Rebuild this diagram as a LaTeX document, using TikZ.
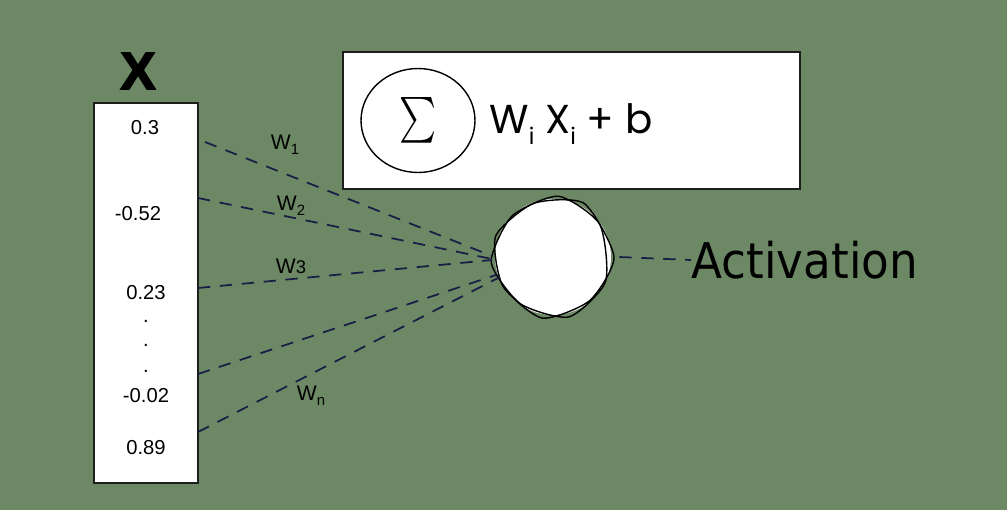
\documentclass[tikz,border=0pt]{standalone}
\usepackage{fontspec}
\setmainfont{Liberation Sans}
\newfontfamily\poppfont{Poppins}
\newfontfamily\actfont[FakeStretch=0.92]{DejaVu Sans}
\newfontfamily\xfont[FakeBold=3]{Liberation Sans Bold}
\usetikzlibrary{shapes.geometric}
\definecolor{bgc}{RGB}{108,136,100}
\definecolor{wirec}{RGB}{25,30,70}
\definecolor{edgec}{RGB}{30,30,30}
\newcommand{\wsub}[1]{\raisebox{-0.45ex}{\fontsize{8.5}{10}\selectfont #1}}
\newcommand{\fsub}[1]{\raisebox{-0.5ex}{\fontsize{13}{15}\selectfont #1}}
\tikzset{
  boxstyle/.style={draw=edgec, fill=white, line width=1.1pt, inner sep=0pt},
  wire/.style={draw=wirec, line width=1pt, dash pattern=on 7pt off 5.5pt},
  valtext/.style={font=\fontsize{11.5}{13}\selectfont, inner sep=0pt},
  wlabel/.style={font=\fontsize{12}{14}\selectfont, inner sep=0pt},
  sketch/.style={draw=black, line width=0.8pt}
}
\begin{document}
\begin{tikzpicture}[x=0.02cm,y=-0.02cm]
\fill[bgc] (0,0) rectangle (1007,510);
\useasboundingbox (0,0) rectangle (1007,510);

% input vector
\node[font=\xfont\fontsize{30}{33}\selectfont, inner sep=0pt] (xlab) at (138,71) {X};
\node[boxstyle, minimum width=2.08cm, minimum height=7.6cm] (vec) at (146,293) {};
\node[valtext] (v1) at (145,128) {0.3};
\node[valtext] (v2) at (138,214) {-0.52};
\node[valtext] (v3) at (146,293) {0.23};
\node[valtext] (d1) at (146,321) {.};
\node[valtext] (d2) at (146,345) {.};
\node[valtext] (d3) at (146,371) {.};
\node[valtext] (v4) at (146,396) {-0.02};
\node[valtext] (v5) at (146,448) {0.89};

% summation box
\node[boxstyle, minimum width=9.14cm, minimum height=2.74cm] (sumbox) at (571.5,120.5) {};
\node[draw=black, line width=0.8pt, ellipse, minimum width=2.28cm, minimum height=2.08cm, inner sep=0pt] (sig) at (418,120.5) {\scalebox{2.0}[2.6]{$\sum$}};
\node[anchor=base west, inner sep=0pt, font=\poppfont\fontsize{23}{27}\selectfont] (formula) at (489,133)
  {W\fsub{i} X\fsub{i} + b};

% neuron
\node[circle, fill=white, minimum size=2.32cm, inner sep=0pt] (neu) at (553,257) {};
\begin{scope}[shift={(553,257)}]
  \draw[sketch] plot[smooth cycle, tension=0.4] coordinates
    {(0:61) (50:57) (100:62) (150:58) (200:61) (250:57) (300:62)};
  \draw[sketch] plot[smooth cycle, tension=0.4] coordinates
    {(25:58) (75:62) (125:57) (175:62) (225:58) (275:61) (325:57)};
\end{scope}

% activation
\node[anchor=west, inner sep=0pt, font=\actfont\fontsize{28}{32}\selectfont] (act) at (691,260) {Activation};
\draw[wire] ([xshift=0.16cm]neu.east) -- (act.west);

% weighted connections
\coordinate (s1) at (205,142);
\coordinate (s2) at (198,198);
\coordinate (s3) at (198,288);
\coordinate (s4) at (198,374);
\coordinate (s5) at (198,432);
\coordinate (e1) at (492,256);
\coordinate (e2) at (492,259);
\coordinate (e3) at (492,260);
\coordinate (e4) at (496,275);
\coordinate (e5) at (500,277);
\draw[wire] (s1) -- (e1);
\draw[wire] (s2) -- (e2);
\draw[wire] (s3) -- (e3);
\draw[wire] (s4) -- (e4);
\draw[wire] (s5) -- (e5);

\node[wlabel] (w1) at (285,145) {W\wsub{1}};
\node[wlabel] (w2) at (291,206) {W\wsub{2}};
\node[wlabel] (w3) at (291,266) {W{\fontsize{10.5}{12}\selectfont 3}};
\node[wlabel] (wn) at (311,396) {W\wsub{n}};
\end{tikzpicture}
\end{document}
